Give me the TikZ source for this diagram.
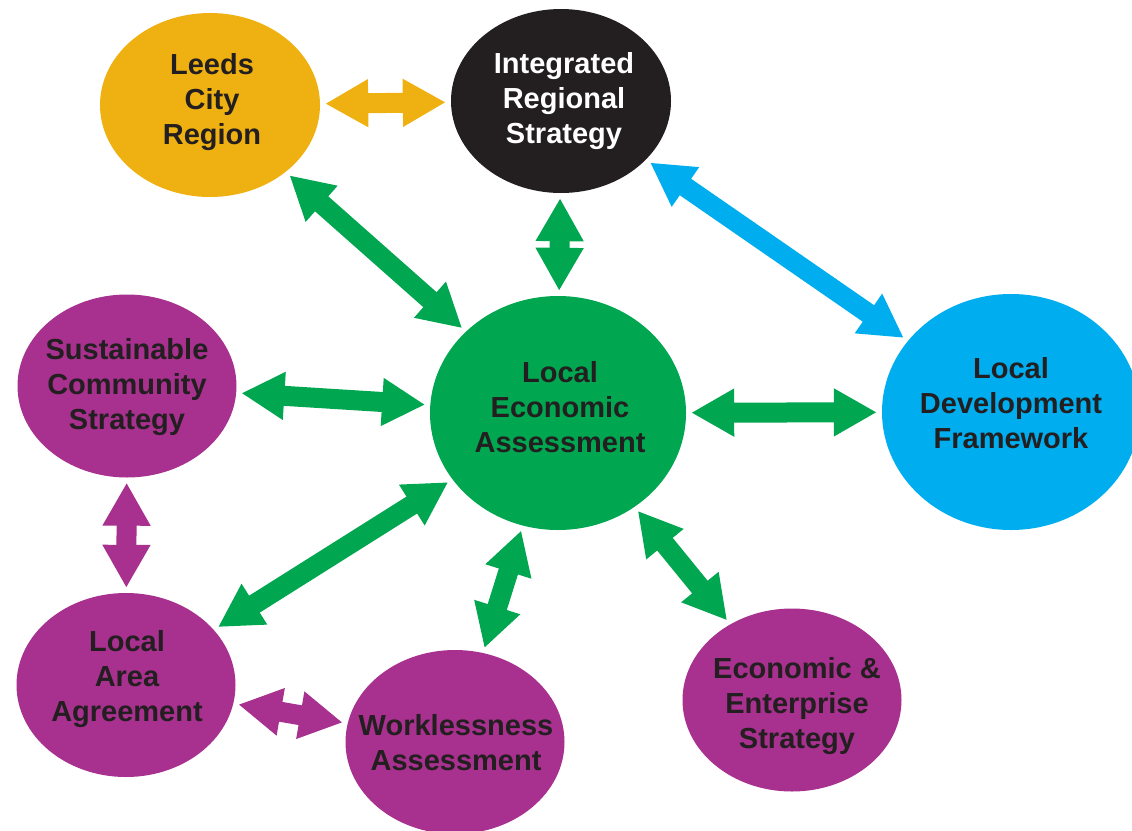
\documentclass[tikz,border=0pt]{standalone}
\usepackage{fontspec}
\setmainfont{Liberation Sans}
\usetikzlibrary{shapes.geometric,arrows.meta}
\definecolor{cyellow}{HTML}{EEB111}
\definecolor{cblack}{HTML}{231F20}
\definecolor{cgreen}{HTML}{00A650}
\definecolor{cblue}{HTML}{00AEEF}
\definecolor{cpurple}{HTML}{A8308F}
\definecolor{ctext}{HTML}{231F20}
\tikzset{
  ell/.style={ellipse, draw=none, inner sep=0pt, minimum width=220pt, minimum height=184pt},
  lbl/.style={font=\fontsize{29}{35}\selectfont\bfseries, align=center, inner sep=0pt, text=ctext},
  dbl/.style={line width=20pt, draw=#1, shorten <=5pt, shorten >=5pt,
    {Triangle[width=45pt,length=43pt]}-{Triangle[width=45pt,length=43pt]}}
}
\begin{document}
\begin{tikzpicture}[x=1pt,y=-1pt]
\useasboundingbox (0,0) rectangle (1132,830);
% ellipses
\node[ell, fill=cyellow] (lcr) at (210,105) {};
\node[ell, fill=cblack] (irs) at (561,101) {};
\node[ell, fill=cgreen, minimum width=256pt, minimum height=234pt] (lea) at (558,413) {};
\node[ell, fill=cblue, minimum width=258pt, minimum height=236pt] (ldf) at (1011,412) {};
\node[ell, fill=cpurple, minimum width=219pt, minimum height=183pt] (scs) at (127,386) {};
\node[ell, fill=cpurple, minimum width=219pt, minimum height=184pt] (laa) at (126,685) {};
\node[ell, fill=cpurple, minimum width=219pt, minimum height=184pt] (wa) at (455,742) {};
\node[ell, fill=cpurple, minimum width=219pt, minimum height=183pt] (ees) at (792,700) {};
% labels
\node[lbl] (lcrt) at (212,102.5) {Leeds\\City\\Region};
\node[lbl, text=white] (irst) at (564,101.5) {Integrated\\Regional\\Strategy};
\node[lbl] (leat) at (560,406.7) {Local\\Economic\\Assessment};
\node[lbl] (ldft) at (1011,403.2) {Local\\Development\\Framework};
\node[lbl] (scst) at (127,387) {Sustainable\\Community\\Strategy};
\node[lbl] (laat) at (127,679.5) {Local\\Area\\Agreement};
\node[lbl] (wat) at (456,742.2) {Worklessness\\Assessment};
\node[lbl] (eest) at (797,706.5) {Economic \&\\Enterprise\\Strategy};
% arrows
\draw[dbl=cyellow] (lcr) -- (irs);
\draw[dbl=cgreen] (lcr) -- (lea);
\draw[dbl=cgreen] (irs) -- (lea);
\draw[dbl=cblue] (irs) -- (ldf);
\draw[dbl=cgreen] (scs) -- (lea);
\draw[dbl=cgreen] (lea) -- (ldf);
\draw[dbl=cgreen] (lea) -- (laa);
\draw[dbl=cgreen] (lea) -- (wa);
\draw[dbl=cgreen] (lea) -- (ees);
\draw[dbl=cpurple] (scs) -- (laa);
\draw[dbl=cpurple] (laa) -- (wa);
\end{tikzpicture}
\end{document}
